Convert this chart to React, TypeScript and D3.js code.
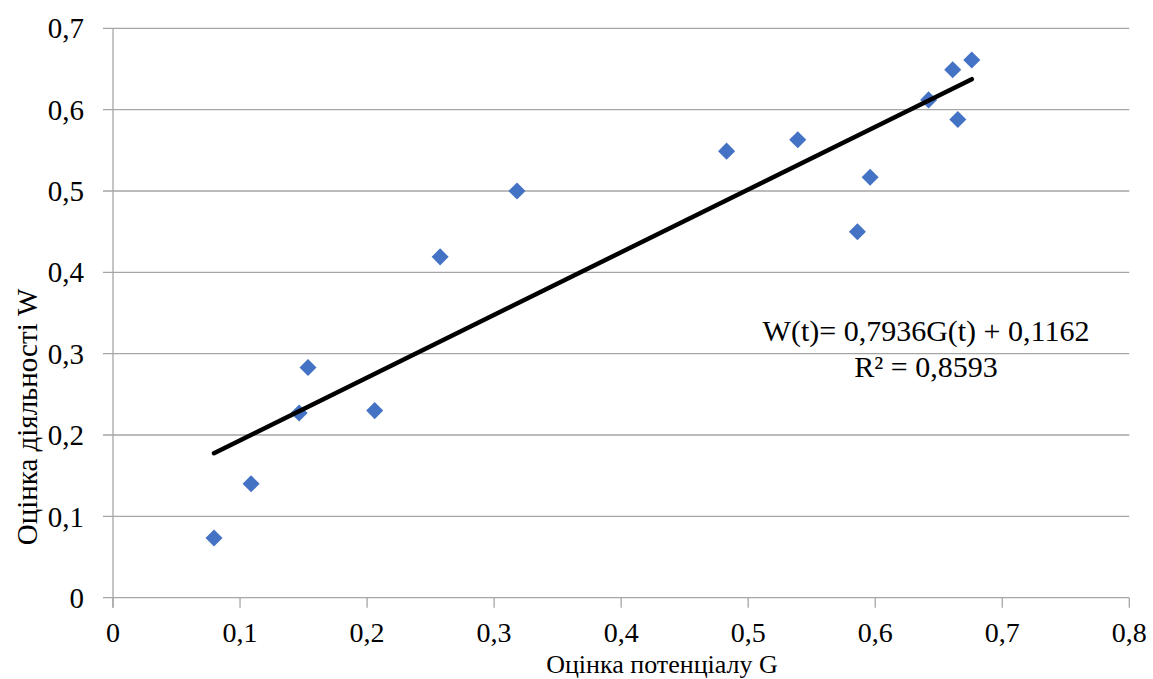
import * as d3 from "d3";

const potential = [0.0795, 0.1087, 0.1465, 0.1535, 0.206, 0.2575, 0.318, 0.483, 0.539, 0.586, 0.596, 0.642, 0.665, 0.661, 0.676];
const activity = [0.0734, 0.14, 0.227, 0.283, 0.23, 0.419, 0.5, 0.549, 0.563, 0.45, 0.517, 0.612, 0.588, 0.649, 0.661];
const xTicks = [0, 0.1, 0.2, 0.3, 0.4, 0.5, 0.6, 0.7, 0.8];
const yTicks = [0, 0.1, 0.2, 0.3, 0.4, 0.5, 0.6, 0.7];
const equationText = "W(t)= 0,7936G(t) + 0,1162";
const r2Text = "R² = 0,8593";

const W = 1153;
const H = 679;
const margin = { left: 113, right: 23.7, top: 28.3, bottom: 81.3 };
const font = '"Liberation Serif", "Times New Roman", Tinos, "DejaVu Serif", serif';
const grid = "#a6a6a6";

const fmt = (v: number) => (v === 0 ? "0" : d3.format(".1f")(v).replace(".", ","));

export default function App() {
  const x = d3.scaleLinear().domain([0, 0.8]).range([margin.left, W - margin.right]);
  const y = d3.scaleLinear().domain([0, 0.7]).range([H - margin.bottom, margin.top]);

  // least squares trend through the points
  const mx = d3.mean(potential)!;
  const my = d3.mean(activity)!;
  const sxy = d3.sum(potential, (v, i) => (v - mx) * (activity[i] - my));
  const sxx = d3.sum(potential, (v) => (v - mx) ** 2);
  const slope = sxy / sxx;
  const icpt = my - slope * mx;
  const [x0, x1] = d3.extent(potential) as [number, number];
  const trend = d3.line<number>().x((v) => x(v)).y((v) => y(slope * v + icpt))([x0, x1]);

  const diamond = d3.symbol().type(d3.symbolDiamond2).size(185)();

  return (
    <svg width={W} height={H} style={{ position: "absolute", left: 0, top: 0, fontFamily: font }}>
      <rect width={W} height={H} fill="white" />
      {yTicks.map((t) => (
        <g key={t}>
          <line x1={x(0) - 10} x2={x(0.8)} y1={y(t)} y2={y(t)} stroke={grid} strokeWidth={1.3} />
          <text x={84} y={y(t)} dy="0.35em" textAnchor="end" fontSize={29}>
            {fmt(t)}
          </text>
        </g>
      ))}
      <line x1={x(0)} x2={x(0)} y1={y(0.7)} y2={y(0) + 10} stroke={grid} strokeWidth={1.3} />
      {xTicks.map((t) => (
        <g key={t}>
          <line x1={x(t)} x2={x(t)} y1={y(0)} y2={y(0) + 10} stroke={grid} strokeWidth={1.3} />
          <text x={x(t)} y={642} textAnchor="middle" fontSize={28}>
            {fmt(t)}
          </text>
        </g>
      ))}
      {potential.map((v, i) => (
        <path key={i} d={diamond!} transform={`translate(${x(v)},${y(activity[i])})`} fill="#4472C4" />
      ))}
      <path d={trend!} fill="none" stroke="black" strokeWidth={4.5} strokeLinecap="round" />
      <text x={926} y={341} textAnchor="middle" fontSize={30}>
        {equationText}
      </text>
      <text x={926} y={377} textAnchor="middle" fontSize={30}>
        {r2Text}
      </text>
      <text x={662} y={673} textAnchor="middle" fontSize={26}>
        Оцінка потенціалу G
      </text>
      <text transform="translate(37,417) rotate(-90)" textAnchor="middle" fontSize={29}>
        Оцінка діяльності W
      </text>
    </svg>
  );
}
